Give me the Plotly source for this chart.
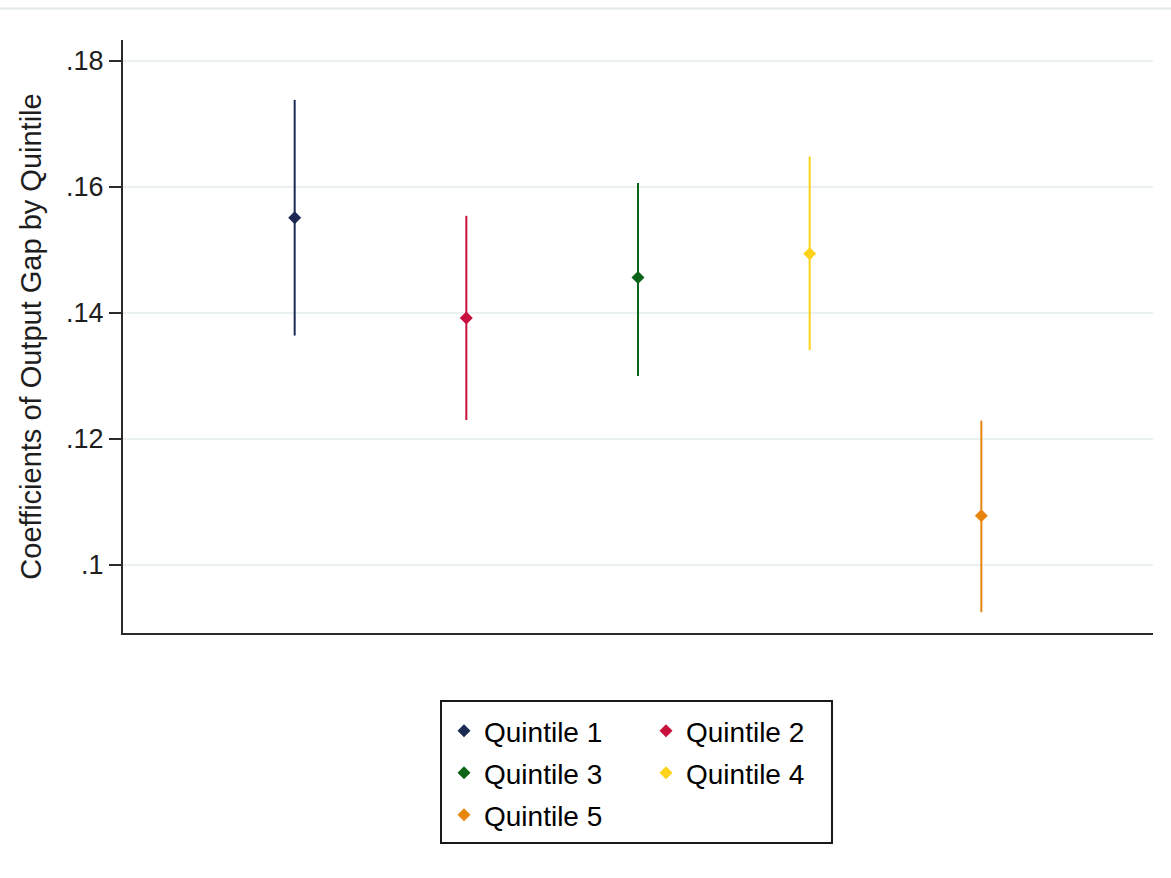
import plotly.graph_objects as go

# Point estimates and 95% confidence bounds by income quintile
quintiles = ["Quintile 1", "Quintile 2", "Quintile 3", "Quintile 4", "Quintile 5"]
positions = [1, 2, 3, 4, 5]
coef = [0.1551, 0.1392, 0.1456, 0.1494, 0.1078]
ci_low = [0.1364, 0.1230, 0.1300, 0.1341, 0.0925]
ci_high = [0.1738, 0.1554, 0.1606, 0.1648, 0.1229]
colors = ["#1c2a52", "#c8103c", "#0b6518", "#ffd21a", "#e8850f"]

tick_vals = [0.10, 0.12, 0.14, 0.16, 0.18]
tick_text = [".1", ".12", ".14", ".16", ".18"]

FONT = "Liberation Sans, Arial, sans-serif"

fig = go.Figure()
for i, name in enumerate(quintiles):
    # left legend column holds odd quintiles, right column the even ones
    legend_id = "legend" if i % 2 == 0 else "legend2"
    fig.add_trace(go.Scatter(
        x=[positions[i]], y=[coef[i]],
        mode="markers",
        name=name,
        legend=legend_id,
        legendgroup=name,
        marker=dict(symbol="diamond", size=10, color=colors[i]),
        error_y=dict(
            type="data", symmetric=False,
            array=[ci_high[i] - coef[i]],
            arrayminus=[coef[i] - ci_low[i]],
            color=colors[i], thickness=2, width=0,
        ),
    ))

W, H = 1171, 878
L, R, T, B = 123, 18, 40, 245
pw, ph = W - L - R, H - T - B


def px_x(x):
    return (x - L) / pw


def px_y(y):
    return (H - B - y) / ph


legend_common = dict(
    font=dict(family=FONT, size=28, color="#000000"),
    bgcolor="rgba(0,0,0,0)", borderwidth=0,
    orientation="v", yanchor="top", xanchor="left",
    tracegroupgap=2.6, itemclick=False,
)

fig.update_layout(
    width=W, height=H,
    margin=dict(l=L, r=R, t=T, b=B),
    paper_bgcolor="white", plot_bgcolor="white",
    font=dict(family=FONT, color="#000000"),
    showlegend=True,
    legend=dict(x=px_x(444), y=px_y(706), **legend_common),
    legend2=dict(x=px_x(646), y=px_y(706), **legend_common),
    xaxis=dict(
        range=[0, 6], showgrid=False, zeroline=False,
        showticklabels=False, ticks="",
        showline=True, linecolor="#2a2a2a", linewidth=2,
    ),
    yaxis=dict(
        range=[0.0892, 0.1833],
        tickvals=tick_vals, ticktext=tick_text,
        ticks="outside", ticklen=12, tickwidth=2, tickcolor="#2a2a2a",
        tickfont=dict(family=FONT, size=27, color="#1e1e1e"),
        showgrid=True, gridcolor="#e8f0f2", gridwidth=1.5,
        zeroline=False,
        showline=True, linecolor="#2a2a2a", linewidth=2,
        title=dict(text="Coefficients of Output Gap by Quintile",
                   font=dict(family=FONT, size=29, color="#1e1e1e"),
                   standoff=16),
    ),
    shapes=[
        # legend frame around both columns
        dict(type="rect", xref="paper", yref="paper",
             x0=px_x(441), x1=px_x(832), y0=px_y(843), y1=px_y(701),
             line=dict(color="#1a1a1a", width=2), fillcolor="rgba(0,0,0,0)"),
        # faint rule along the top edge
        dict(type="line", xref="paper", yref="paper",
             x0=px_x(0), x1=px_x(W), y0=px_y(8.5), y1=px_y(8.5),
             line=dict(color="#e4e9eb", width=2)),
    ],
)

fig.write_html("out.html")
